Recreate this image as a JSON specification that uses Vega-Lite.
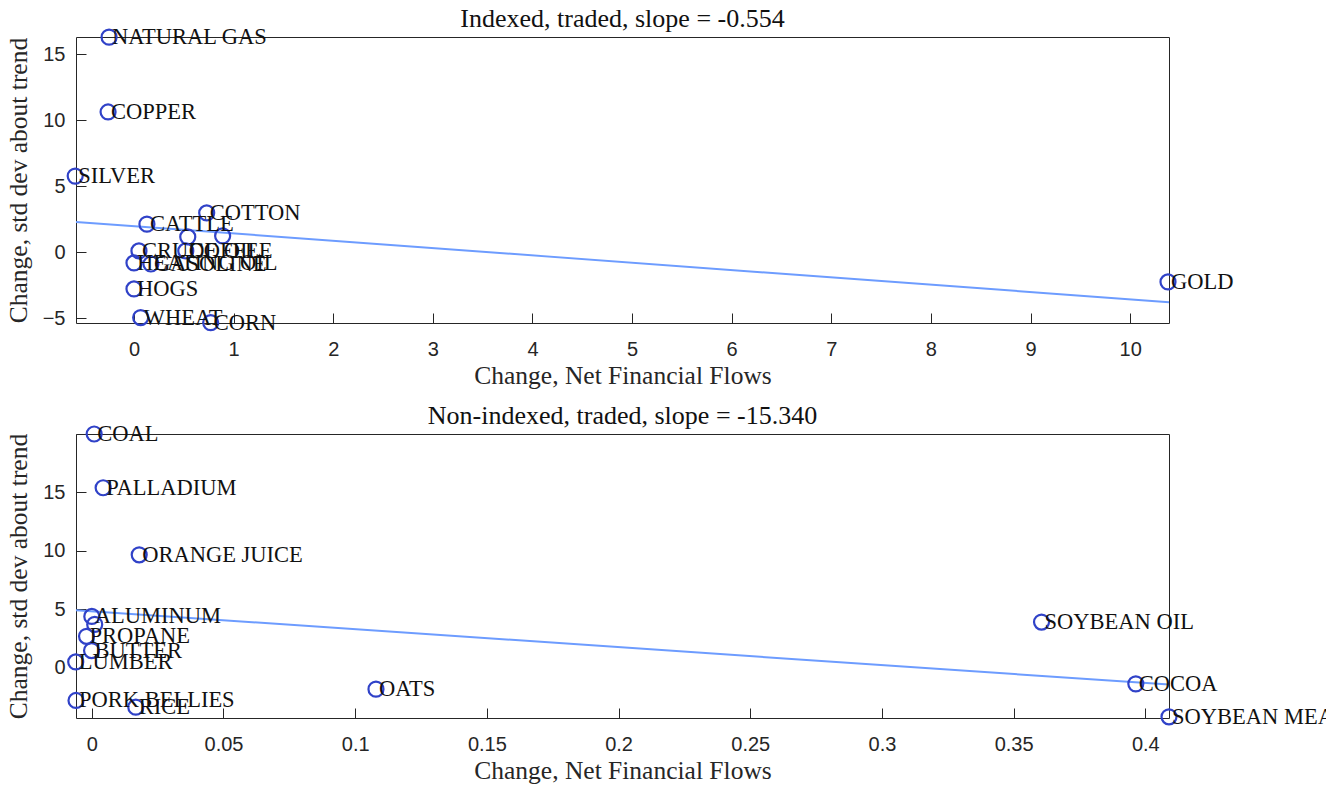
{
  "$schema": "https://vega.github.io/schema/vega-lite/v6.json",
  "padding": {"left": 5, "top": 5, "right": 5, "bottom": 5},
  "background": "white",
  "bounds": "flush",
  "spacing": 111,
  "config": {
    "view": {"stroke": "#262626", "strokeWidth": 1},
    "axis": {
      "grid": false,
      "domain": false,
      "tickColor": "#262626",
      "tickSize": -10,
      "labelFont": "Liberation Sans",
      "labelFontSize": 20,
      "labelColor": "#262626",
      "titleFont": "Liberation Serif",
      "titleFontSize": 25.5,
      "titleFontWeight": "normal",
      "titleColor": "#262626"
    },
    "title": {"font": "Liberation Serif", "fontSize": 26, "fontWeight": "normal", "color": "#111111"}
  },
  "vconcat": [
    {
      "width": 1093,
      "height": 286,
      "title": {"text": "Indexed, traded, slope = -0.554", "offset": -7},
      "resolve": {"axis": {"x": "independent", "y": "independent"}},
      "layer": [
        {
          "data": {"values": [
            {"x": -0.582, "y": 2.30},
            {"x": 10.39, "y": -3.78}
          ]},
          "mark": {"type": "line", "color": "#6d9cff", "strokeWidth": 2},
          "encoding": {
            "x": {"field": "x", "type": "quantitative", "scale": {"domain": [-0.582, 10.39], "nice": false, "zero": false},
                  "axis": {"orient": "bottom", "values": [0,1,2,3,4,5,6,7,8,9,10], "labelPadding": 26, "title": "Change, Net Financial Flows", "titlePadding": 4}},
            "y": {"field": "y", "type": "quantitative", "scale": {"domain": [-5.36, 16.31], "nice": false, "zero": false},
                  "axis": {"orient": "left", "values": [-5,0,5,10,15], "labelPadding": 21, "title": "Change, std dev about trend", "titlePadding": 11}}
          }
        },
        {
          "data": {"values": [
            {"name": "NATURAL GAS", "x": -0.25, "y": 16.3},
            {"name": "COPPER", "x": -0.26, "y": 10.63},
            {"name": "SILVER", "x": -0.59, "y": 5.77},
            {"name": "CATTLE", "x": 0.13, "y": 2.13},
            {"name": "COTTON", "x": 0.73, "y": 2.98},
            {"name": "", "x": 0.54, "y": 1.16},
            {"name": "", "x": 0.89, "y": 1.24},
            {"name": "CRUDE OIL", "x": 0.05, "y": 0.1},
            {"name": "COFFEE", "x": 0.52, "y": 0.1},
            {"name": "HEATING OIL", "x": 0.0, "y": -0.81},
            {"name": "GASOLINE", "x": 0.17, "y": -0.89},
            {"name": "HOGS", "x": 0.0, "y": -2.78},
            {"name": "WHEAT", "x": 0.067, "y": -4.95},
            {"name": "CORN", "x": 0.77, "y": -5.33},
            {"name": "GOLD", "x": 10.38, "y": -2.25}
          ]},
          "layer": [
            {
              "mark": {"type": "point", "shape": "circle", "filled": false, "color": "#3042c8", "strokeWidth": 2.2, "size": 225, "opacity": 1},
              "encoding": {
                "x": {"field": "x", "type": "quantitative", "axis": {"orient": "top", "labels": false, "title": null, "values": [0,1,2,3,4,5,6,7,8,9,10]}},
                "y": {"field": "y", "type": "quantitative", "axis": {"orient": "right", "labels": false, "title": null, "values": [-5,0,5,10,15]}}
              }
            },
            {
              "mark": {"type": "text", "align": "left", "baseline": "middle", "dx": 3, "font": "Liberation Serif", "fontSize": 22.5, "color": "#111111"},
              "encoding": {
                "x": {"field": "x", "type": "quantitative", "axis": null},
                "y": {"field": "y", "type": "quantitative", "axis": null},
                "text": {"field": "name"}
              }
            }
          ]
        }
      ]
    },
    {
      "width": 1093,
      "height": 284,
      "title": {"text": "Non-indexed, traded, slope = -15.340", "offset": -7},
      "resolve": {"axis": {"x": "independent", "y": "independent"}},
      "layer": [
        {
          "data": {"values": [
            {"x": -0.006, "y": 4.92},
            {"x": 0.409, "y": -1.44}
          ]},
          "mark": {"type": "line", "color": "#6d9cff", "strokeWidth": 2},
          "encoding": {
            "x": {"field": "x", "type": "quantitative", "scale": {"domain": [-0.006, 0.409], "nice": false, "zero": false},
                  "axis": {"orient": "bottom", "values": [0,0.05,0.1,0.15,0.2,0.25,0.3,0.35,0.4], "labelExpr": "'' + datum.value", "labelPadding": 26, "title": "Change, Net Financial Flows", "titlePadding": 4}},
            "y": {"field": "y", "type": "quantitative", "scale": {"domain": [-4.3, 20.0], "nice": false, "zero": false},
                  "axis": {"orient": "left", "values": [0,5,10,15,20], "labelExpr": "datum.value == 20 ? '' : '' + datum.value", "labelPadding": 21, "title": "Change, std dev about trend", "titlePadding": 11}}
          }
        },
        {
          "data": {"values": [
            {"name": "COAL", "x": 0.0009, "y": 20.0},
            {"name": "PALLADIUM", "x": 0.0043, "y": 15.4},
            {"name": "ORANGE JUICE", "x": 0.018, "y": 9.66},
            {"name": "ALUMINUM", "x": 0.0, "y": 4.39},
            {"name": "", "x": 0.0011, "y": 3.71},
            {"name": "PROPANE", "x": -0.002, "y": 2.69},
            {"name": "BUTTER", "x": -0.0001, "y": 1.47},
            {"name": "LUMBER", "x": -0.0061, "y": 0.5},
            {"name": "PORK BELLIES", "x": -0.006, "y": -2.8},
            {"name": "RICE", "x": 0.0167, "y": -3.37},
            {"name": "OATS", "x": 0.1079, "y": -1.83},
            {"name": "SOYBEAN OIL", "x": 0.3606, "y": 3.91},
            {"name": "COCOA", "x": 0.3964, "y": -1.38},
            {"name": "SOYBEAN MEAL", "x": 0.409, "y": -4.2}
          ]},
          "layer": [
            {
              "mark": {"type": "point", "shape": "circle", "filled": false, "color": "#3042c8", "strokeWidth": 2.2, "size": 225, "opacity": 1},
              "encoding": {
                "x": {"field": "x", "type": "quantitative", "axis": {"orient": "top", "labels": false, "title": null, "values": [0,0.05,0.1,0.15,0.2,0.25,0.3,0.35,0.4]}},
                "y": {"field": "y", "type": "quantitative", "axis": {"orient": "right", "labels": false, "title": null, "values": [0,5,10,15,20]}}
              }
            },
            {
              "mark": {"type": "text", "align": "left", "baseline": "middle", "dx": 3, "font": "Liberation Serif", "fontSize": 22.5, "color": "#111111"},
              "encoding": {
                "x": {"field": "x", "type": "quantitative", "axis": null},
                "y": {"field": "y", "type": "quantitative", "axis": null},
                "text": {"field": "name"}
              }
            }
          ]
        }
      ]
    }
  ]
}
